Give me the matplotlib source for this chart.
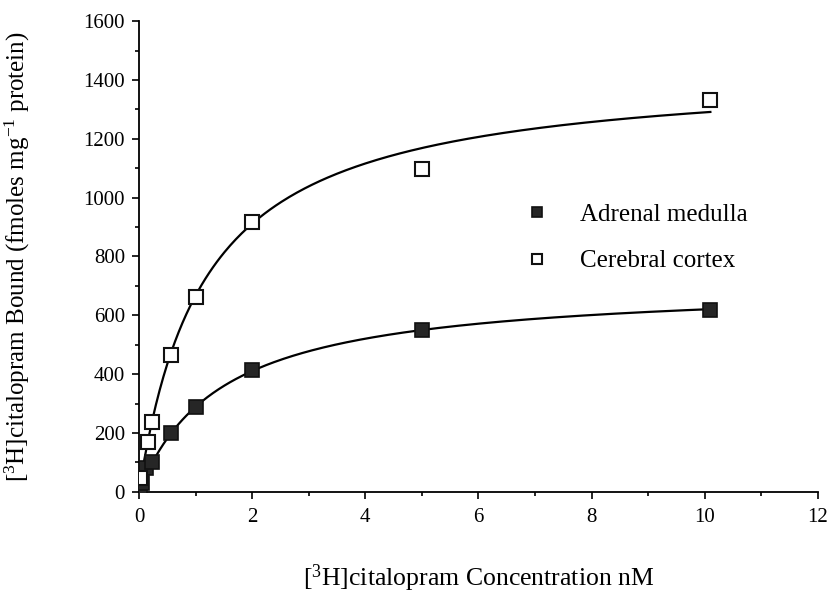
import numpy as np
import matplotlib.pyplot as plt
from matplotlib.ticker import MultipleLocator

plt.rcParams['font.family'] = ['Liberation Serif', 'DejaVu Serif']
plt.rcParams['mathtext.fontset'] = 'custom'
plt.rcParams['mathtext.rm'] = 'Liberation Serif'
plt.rcParams['mathtext.it'] = 'Liberation Serif:italic'

# points (nM, fmoles/mg protein)
cortex_x = [0.02, 0.16, 0.23, 0.56, 1.0, 2.0, 5.0, 10.1]
cortex_y = [45, 170, 238, 465, 663, 918, 1097, 1332]
medulla_x = [0.02, 0.05, 0.13, 0.23, 0.57, 1.0, 2.0, 5.0, 10.1]
medulla_y = [15, 29, 80, 102, 201, 289, 414, 550, 618]

# one-site saturation fit (Bmax, Kd) estimated from the drawn curves
cortex_fit = (1440, 1.16)
medulla_fit = (711, 1.465)

fig = plt.figure(figsize=(8.32, 6), dpi=100)
ax = fig.add_axes([0.167, 0.1805, 0.816, 0.784])

xs = np.linspace(0.03, 10.1, 300)
for bmax, kd in (cortex_fit, medulla_fit):
    ax.plot(xs, bmax * xs / (kd + xs), color='black', lw=1.6, zorder=2)

ax.plot(medulla_x, medulla_y, 's', ms=10.5, mfc='#262626', mec='#111111',
        mew=1.2, ls='none', label='Adrenal medulla', zorder=3)
ax.plot(cortex_x, cortex_y, 's', ms=10.5, mfc='white', mec='#111111',
        mew=1.5, ls='none', label='Cerebral cortex', zorder=3)

ax.set_xlim(0, 12)
ax.set_ylim(0, 1600)
ax.xaxis.set_major_locator(MultipleLocator(2))
ax.xaxis.set_minor_locator(MultipleLocator(1))
ax.yaxis.set_major_locator(MultipleLocator(200))
ax.yaxis.set_minor_locator(MultipleLocator(100))
ax.spines['top'].set_visible(False)
ax.spines['right'].set_visible(False)
for s in ('left', 'bottom'):
    ax.spines[s].set_linewidth(1.3)
ax.tick_params(which='major', direction='out', length=5, width=1.2,
               labelsize=15)
ax.tick_params(axis='x', which='major', pad=7)
ax.tick_params(axis='y', which='major', pad=5)
ax.tick_params(which='minor', direction='out', length=3, width=1.2)

ax.set_xlabel(r'[$^3$H]citalopram Concentration nM', fontsize=18.5)
ax.set_ylabel(r'[$^3$H]citalopram Bound (fmoles mg$^{-1}$ protein)',
              fontsize=18)
ax.xaxis.set_label_coords(0.5, -0.15)
ax.yaxis.set_label_coords(-0.158, 0.5)

ax.legend(loc='upper left', bbox_to_anchor=(0.535, 0.66), frameon=False,
          fontsize=18, markerscale=0.75, handlelength=1.0, handletextpad=1.2,
          labelspacing=0.95)

fig.savefig('out.png', dpi=100)
